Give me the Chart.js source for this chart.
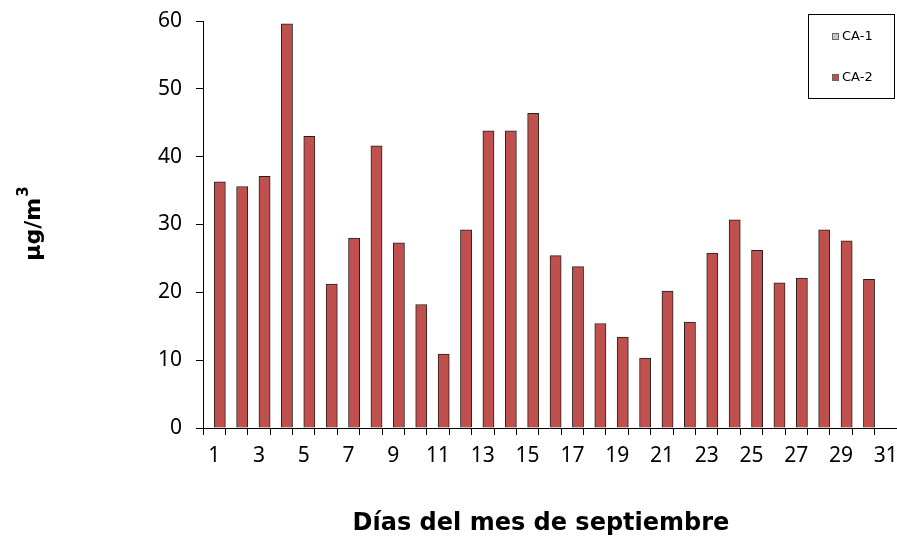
<!DOCTYPE html>
<html>
<head>
<meta charset="utf-8">
<script src="https://cdn.jsdelivr.net/npm/chart.js@4/dist/chart.umd.min.js"></script>
<style>
  html, body { margin: 0; padding: 0; background: #fff; }
  #wrap { width: 897px; height: 539px; }
</style>
</head>
<body>
<div id="wrap"><canvas id="chart" width="897" height="539"></canvas></div>
<script>
// días del mes (categorías del eje X)
const days = ['1', '2', '3', '4', '5', '6', '7', '8', '9', '10',
              '11', '12', '13', '14', '15', '16', '17', '18', '19', '20',
              '21', '22', '23', '24', '25', '26', '27', '28', '29', '30', '31'];

// CA-1 no tiene datos en septiembre
const ca1Values = [];

// CA-2 en µg/m3
const ca2Values = [36.3, 35.6, 37.1, 59.6, 43.0, 21.2, 28.0, 41.6, 27.3, 18.2,
                   10.9, 29.2, 43.8, 43.8, 46.4, 25.4, 23.8, 15.4, 13.4, 10.3,
                   20.2, 15.6, 25.8, 30.7, 26.2, 21.4, 22.1, 29.2, 27.6, 21.9, null];

const yTicks = [0, 10, 20, 30, 40, 50, 60];

const xTitle = 'Días del mes de septiembre';
const yTitle = 'µg/m';
const yTitleSup = '3';

// leyenda con recuadro y títulos de los ejes
const extrasPlugin = {
    id: 'extras',
    afterDraw(chart) {
        const ctx = chart.ctx;
        ctx.save();

        // recuadro de la leyenda
        ctx.strokeStyle = '#000';
        ctx.lineWidth = 1;
        ctx.strokeRect(808.5, 14.5, 86, 84);
        ctx.font = '13px "DejaVu Sans"';
        ctx.textBaseline = 'middle';
        ctx.textAlign = 'left';
        const rows = [37, 78];
        chart.data.datasets.forEach((ds, i) => {
            const y = rows[i];
            ctx.fillStyle = ds.backgroundColor;
            ctx.fillRect(832, y - 4, 7, 7);
            ctx.strokeStyle = '#666';
            ctx.strokeRect(832.5, y - 3.5, 6, 6);
            ctx.fillStyle = '#000';
            ctx.fillText(ds.label, 842, y);
        });

        // título eje X
        ctx.fillStyle = '#000';
        ctx.textAlign = 'center';
        ctx.font = 'bold 24px "DejaVu Sans"';
        ctx.fillText(xTitle, 541, 524);

        // título eje Y (rotado)
        ctx.translate(34, 224);
        ctx.rotate(-Math.PI / 2);
        ctx.font = 'bold 22px "DejaVu Sans"';
        const w = ctx.measureText(yTitle).width;
        ctx.font = 'bold 15px "DejaVu Sans"';
        const ws = ctx.measureText(yTitleSup).width;
        ctx.textAlign = 'left';
        ctx.font = 'bold 22px "DejaVu Sans"';
        ctx.fillText(yTitle, -(w + ws) / 2, 0);
        ctx.font = 'bold 15px "DejaVu Sans"';
        ctx.fillText(yTitleSup, -(w + ws) / 2 + w + 1, -10);
        ctx.restore();
    }
};

const ctx = document.getElementById('chart').getContext('2d');
new Chart(ctx, {
    type: 'bar',
    data: {
        labels: days,
        datasets: [{
            label: 'CA-1',
            data: ca1Values,
            backgroundColor: '#CCC0DA',
            borderColor: '#333',
            borderWidth: 1,
            categoryPercentage: 1.0,
            barPercentage: 1.0
        }, {
            label: 'CA-2',
            data: ca2Values,
            backgroundColor: '#C0504D',
            borderColor: '#222',
            borderWidth: 1,
            categoryPercentage: 1.0,
            barPercentage: 1.0
        }]
    },
    options: {
        responsive: false,
        devicePixelRatio: 1,
        animation: false,
        layout: { padding: { left: 0, right: 0, top: 21, bottom: 0 } },
        plugins: {
            legend: { display: false },
            tooltip: { enabled: false }
        },
        scales: {
            x: {
                offset: true,
                grid: {
                    offset: true,
                    drawOnChartArea: false,
                    drawTicks: true,
                    tickLength: 7,
                    color: '#000'
                },
                border: { color: '#000', width: 1 },
                ticks: {
                    autoSkip: false,
                    maxRotation: 0,
                    padding: 8,
                    color: '#000',
                    font: { family: '"Noto Sans"', size: 21 },
                    callback: function(value, index) {
                        return index % 2 === 0 ? this.getLabelForValue(value) : '';
                    }
                },
                afterFit(scale) {
                    scale.height = 111;
                    scale.paddingLeft = 0;
                    scale.paddingRight = 0;
                }
            },
            y: {
                min: 0,
                max: 60,
                afterBuildTicks(scale) {
                    scale.ticks = yTicks.map(v => ({ value: v }));
                },
                grid: {
                    drawOnChartArea: false,
                    drawTicks: true,
                    tickLength: 7,
                    color: '#000'
                },
                border: { color: '#000', width: 1 },
                ticks: {
                    padding: 14,
                    color: '#000',
                    font: { family: '"Noto Sans"', size: 21 }
                },
                afterFit(scale) {
                    scale.width = 203;
                    scale.paddingTop = 0;
                    scale.paddingBottom = 0;
                }
            }
        }
    },
    plugins: [extrasPlugin]
});
</script>
</body>
</html>
